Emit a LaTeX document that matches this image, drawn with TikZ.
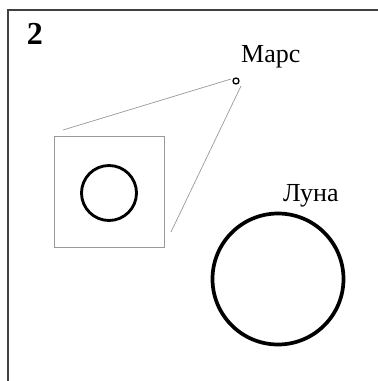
\documentclass[tikz,border=0pt]{standalone}
\usepackage{fontspec}
\setmainfont{Liberation Serif}
\tikzset{
    mylabel/.style={font=\fontsize{26}{30}\selectfont,inner sep=0pt},
    planet/.style={draw=black,line width=1.3mm},
    thinline/.style={draw=black!40,line width=0.25mm}
}

\begin{document}
\begin{tikzpicture}[x=1pt,y=-1pt]
        \useasboundingbox (0,0) rectangle (378,381);
        % frame
        \draw[black!75,line width=0.7mm] (8,381) -- (8,10) -- (378,10);
        \node[font=\fontsize{32}{36}\selectfont\bfseries,inner sep=0pt] (num) at (35,34) {2};

        % mars
        \node[draw=black,line width=0.45mm,circle,minimum size=6pt,inner sep=0pt] (mars) at (236,81) {};
        \node[mylabel,anchor=base west] (marslabel) at (241,62) {Марс};

        % zoom box
        \node[thinline,minimum width=110pt,minimum height=111pt,inner sep=0pt] (inset) at (109,191.5) {};
        \node[planet,circle,minimum size=55pt,inner sep=0pt,line width=1mm] (marsbig) at (109,193) {};
        \coordinate (zoomA) at (63,130);
        \coordinate (zoomB) at (171,232);
        \coordinate (marsA) at (231,79);
        \coordinate (marsB) at (241,86);
        \draw[thinline] (zoomA) -- (marsA);
        \draw[thinline] (zoomB) -- (marsB);

        % moon
        \node[planet,circle,minimum size=131pt,inner sep=0pt] (moon) at (278,279) {};
        \node[mylabel,anchor=base west] (moonlabel) at (283,201.5) {Луна};
\end{tikzpicture}
\end{document}
